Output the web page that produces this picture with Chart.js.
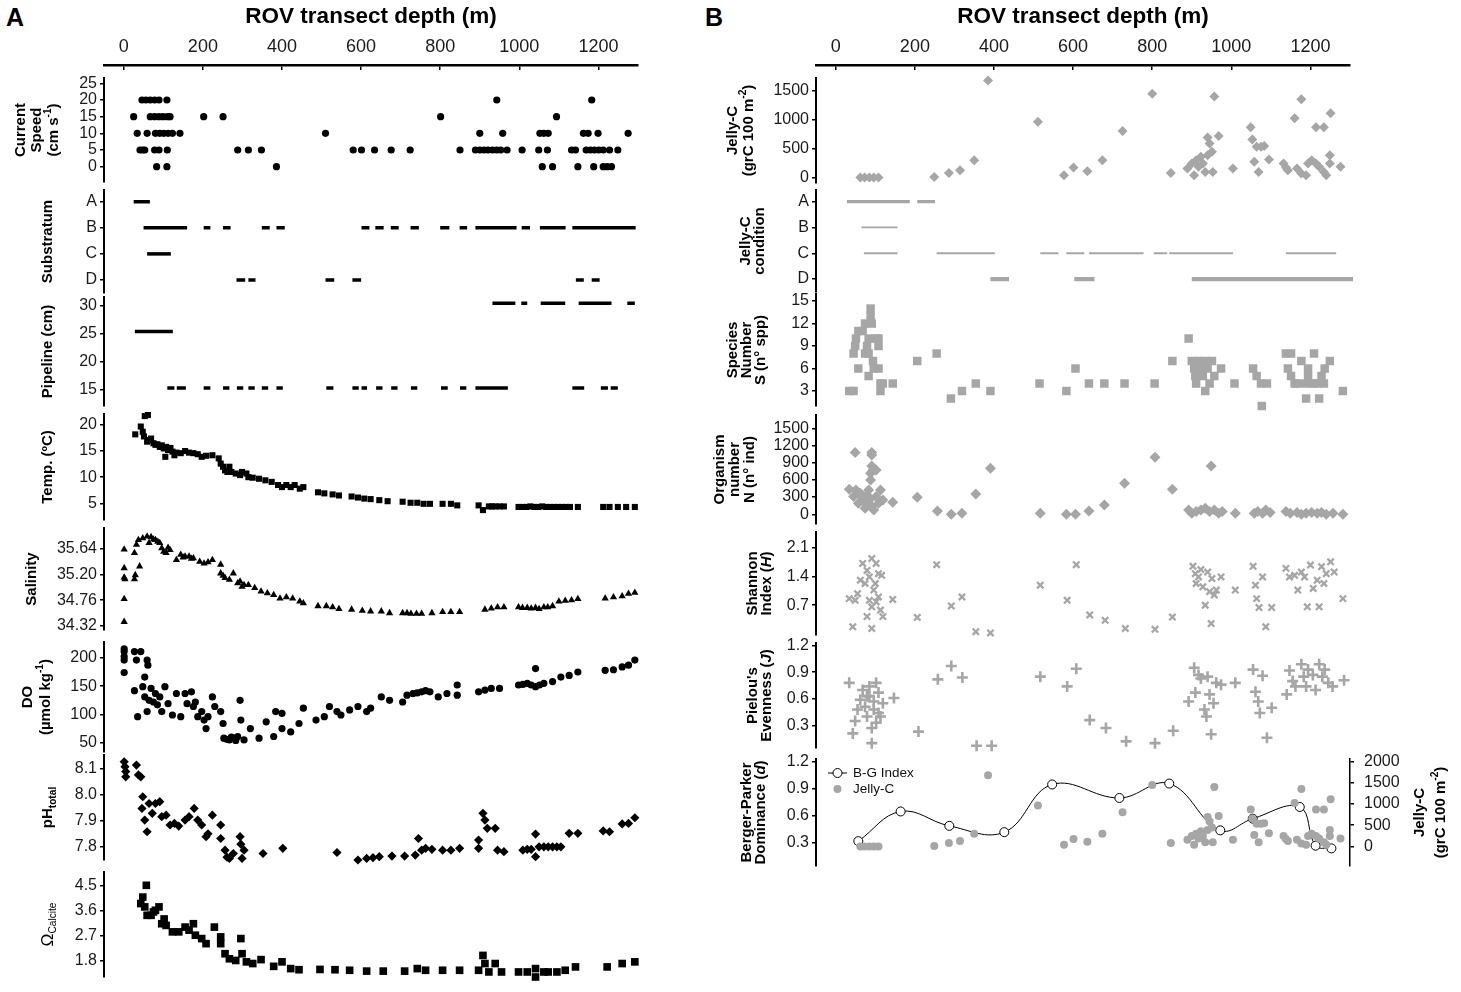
<!DOCTYPE html>
<html><head><meta charset="utf-8">
<script src="https://cdn.jsdelivr.net/npm/chart.js@4.4.1/dist/chart.umd.min.js"></script>
<style>
html,body{margin:0;padding:0;background:#fff;}
#wrap{position:relative;width:1461px;height:992px;overflow:hidden;background:#fff;}
canvas{position:absolute;}
.lbl{position:absolute;font:bold 25px 'Liberation Sans',Arial,sans-serif;color:#000;}
</style></head><body>
<div id="wrap">
<div class="lbl" style="left:6px;top:3px">A</div>
<div class="lbl" style="left:705px;top:3px">B</div>
</div>
<script>
// ---------------- DATA ----------------
const xTicks = [0,200,400,600,800,1000,1200];
const xTitle = 'ROV transect depth (m)';

const speedTicks = [0,5,10,15,20,25];
const currentSpeed = [[46,20],[56,20],[67,20],[78,20],[89,20],[109,20],[943,20],[1183,20],
 [25,15],[67,15],[78,15],[89,15],[99,15],[110,15],[117,15],[202,15],[251,15],[801,15],[1094,15],
 [34,10],[59,10],[80,10],[91,10],[101,10],[112,10],[123,10],[142,10],[510,10],[900,10],[958,10],[1052,10],[1062,10],[1073,10],[1162,10],[1174,10],[1199,10],[1275,10],
 [41,5],[48,5],[53,5],[78,5],[89,5],[110,5],[288,5],[315,5],[348,5],[580,5],[601,5],[634,5],[676,5],[724,5],[850,5],[889,5],[900,5],[911,5],[921,5],[932,5],[943,5],[953,5],[969,5],[1007,5],[1049,5],[1071,5],[1132,5],[1142,5],[1169,5],[1180,5],[1190,5],[1201,5],[1212,5],[1228,5],[1249,5],
 [83,0],[109,0],[386,0],[1058,0],[1084,0],[1148,0],[1188,0],[1212,0],[1222,0],[1233,0]];

const substrateCats = ['A','B','C','D'];
const substrateA = [[25,66]];
const substrateB = [[50,160],[202,219],[251,270],[349,369],[386,407],[601,621],[636,657],[675,695],[725,746],[800,823],[849,868],[889,993],[1006,1027],[1052,1117],[1134,1294]];
const substrateC = [[59,119]];
const substrateD = [[285,307],[315,333],[510,532],[578,600],[1143,1163],[1183,1203]];

const pipeTicks = [15,20,25,30];
const pipeSizes = [30.48,25.4,15.24];
const pipe30 = [[932,990],[1005,1020],[1054,1116],[1150,1233],[1273,1292]];
const pipe25 = [[28,124]];
const pipe15 = [[110,128],[134,157],[202,219],[251,267],[286,302],[315,331],[349,365],[386,402],[512,530],[578,594],[601,615],[638,654],[676,692],[726,742],[802,819],[850,866],[889,971],[1134,1164],[1206,1224],[1231,1249]];

const tempTicks = [5,10,15,20];
const temperature = [[29,18.2],[43,19.7],[53,21.7],[61,21.9],[48,18.7],[51,17.8],[59,16.8],[64,17.1],[69,17.4],[75,16.5],[80,16.2],[85,16.3],[91,15.8],[96,16.1],[101,15.5],[107,15.8],[105,13.9],[112,15.2],[118,15.6],[123,14.9],[128,14.2],[133,14.7],[144,14.6],[155,15.0],[165,14.7],[176,14.6],[187,14.4],[197,13.9],[208,14.1],[224,14.2],[240,13.6],[245,12.6],[251,12.0],[256,11.3],[262,11.0],[267,12.0],[272,11.0],[283,10.7],[294,10.4],[299,11.0],[310,10.7],[315,10.0],[326,9.9],[342,9.7],[358,9.4],[374,9.1],[390,8.5],[400,8.1],[411,8.5],[422,8.1],[432,8.5],[445,7.8],[454,8.1],[491,7.1],[507,6.9],[528,6.7],[544,6.5],[576,6.3],[592,6.1],[608,5.9],[624,5.8],[646,5.6],[667,5.4],[705,5.3],[725,5.1],[742,5.1],[758,4.9],[774,4.9],[806,4.9],[827,4.9],[843,4.6],[897,4.6],[908,3.7],[923,4.4],[931,4.4],[939,4.4],[950,4.4],[961,4.4],[998,4.3],[1008,4.3],[1018,4.3],[1028,4.4],[1038,4.3],[1048,4.3],[1058,4.4],[1068,4.3],[1078,4.3],[1088,4.3],[1098,4.3],[1108,4.3],[1118,4.3],[1128,4.3],[1148,4.3],[1212,4.3],[1228,4.3],[1249,4.3],[1270,4.3],[1292,4.3]];

const salTicks = [34.32,34.76,35.20,35.64];
const salinity = [[1,35.63],[1,35.31],[1,35.15],[3,35.12],[1,34.78],[1,34.39],[27,35.12],[29,35.19],[40,35.34],[27,35.57],[32,35.71],[37,35.79],[48,35.82],[59,35.85],[69,35.84],[64,35.74],[75,35.80],[80,35.79],[86,35.76],[91,35.74],[96,35.65],[101,35.59],[107,35.57],[112,35.66],[117,35.62],[133,35.45],[144,35.54],[150,35.49],[155,35.51],[165,35.51],[171,35.47],[176,35.48],[192,35.42],[203,35.39],[213,35.41],[224,35.45],[245,35.37],[245,35.22],[251,35.18],[256,35.14],[267,35.11],[277,35.22],[288,35.05],[294,35.08],[299,34.99],[304,35.02],[315,35.02],[331,34.97],[347,34.91],[363,34.88],[379,34.85],[395,34.79],[411,34.81],[427,34.79],[445,34.74],[454,34.71],[491,34.66],[512,34.66],[528,34.64],[544,34.61],[576,34.60],[603,34.58],[624,34.57],[651,34.57],[672,34.54],[705,34.54],[716,34.54],[726,34.53],[740,34.53],[753,34.53],[779,34.54],[806,34.56],[827,34.56],[849,34.56],[913,34.60],[929,34.62],[945,34.64],[961,34.64],[998,34.64],[1008,34.63],[1020,34.63],[1030,34.62],[1041,34.63],[1050,34.61],[1062,34.64],[1072,34.64],[1084,34.66],[1100,34.74],[1116,34.75],[1132,34.76],[1148,34.78],[1217,34.79],[1238,34.81],[1260,34.83],[1276,34.87],[1292,34.89]];

const doTicks = [50,100,150,200];
const dissolvedO2 = [[1,216],[1,211],[1,202],[1,196],[1,174],[27,211],[32,196],[43,211],[59,196],[61,187],[53,166],[27,142],[35,96],[48,149],[53,131],[59,105],[64,125],[69,146],[75,122],[80,137],[85,117],[91,131],[96,105],[104,149],[112,119],[123,99],[133,137],[144,96],[155,137],[160,119],[171,140],[176,114],[181,122],[187,96],[197,105],[203,90],[208,75],[213,96],[224,131],[230,114],[245,105],[251,84],[253,58],[260,56],[267,55],[272,60],[277,58],[283,54],[288,61],[294,125],[296,90],[304,55],[320,75],[342,58],[360,87],[379,61],[384,105],[400,102],[400,75],[422,69],[443,84],[454,111],[486,90],[507,96],[520,114],[539,105],[549,99],[571,108],[592,114],[614,105],[624,111],[651,131],[672,125],[705,122],[716,134],[731,137],[742,138],[753,140],[763,142],[774,140],[795,131],[817,137],[843,134],[843,152],[897,140],[913,143],[929,146],[950,146],[998,152],[1009,153],[1020,155],[1030,152],[1041,181],[1041,149],[1051,152],[1062,155],[1084,158],[1105,166],[1126,169],[1148,175],[1217,178],[1238,179],[1260,184],[1276,187],[1292,196]];

const phTicks = [7.8,7.9,8.0,8.1];
const phTotal = [[1,8.128],[3,8.109],[5,8.09],[5,8.07],[32,8.115],[37,8.077],[43,8.07],[48,7.993],[46,7.948],[53,7.903],[59,7.858],[64,7.967],[72,7.929],[80,7.967],[91,7.974],[96,7.916],[107,7.922],[117,7.884],[128,7.89],[139,7.88],[155,7.903],[165,7.916],[178,7.948],[187,7.903],[197,7.884],[208,7.839],[213,7.85],[224,7.922],[245,7.884],[245,7.832],[256,7.787],[261,7.76],[267,7.755],[277,7.774],[294,7.839],[296,7.81],[299,7.755],[304,7.787],[352,7.774],[402,7.794],[539,7.778],[592,7.749],[614,7.755],[630,7.758],[646,7.762],[678,7.764],[710,7.764],[737,7.768],[745,7.832],[753,7.787],[763,7.794],[779,7.79],[806,7.787],[827,7.787],[849,7.794],[897,7.826],[897,7.794],[908,7.929],[913,7.903],[919,7.871],[939,7.871],[945,7.787],[961,7.781],[1009,7.787],[1020,7.79],[1030,7.79],[1041,7.849],[1041,7.762],[1050,7.8],[1062,7.8],[1073,7.8],[1084,7.8],[1095,7.8],[1105,7.8],[1126,7.852],[1148,7.852],[1212,7.861],[1228,7.858],[1260,7.888],[1276,7.89],[1292,7.912]];

const omegaTicks = [1.8,2.7,3.6,4.5];
const omegaCalcite = [[43,3.85],[48,4.08],[57,4.5],[53,3.73],[59,3.43],[69,3.43],[75,3.55],[80,3.61],[89,3.73],[96,3.13],[102,3.3],[107,3.07],[123,2.84],[139,2.84],[155,3.01],[165,2.9],[176,3.13],[181,2.72],[197,2.6],[208,2.42],[229,3.01],[245,2.66],[245,2.42],[256,2.06],[267,1.88],[283,1.82],[296,2.6],[299,2.06],[310,1.77],[326,1.71],[347,1.85],[379,1.61],[400,1.77],[422,1.53],[443,1.49],[496,1.5],[534,1.49],[571,1.47],[614,1.44],[656,1.44],[710,1.44],[742,1.53],[763,1.47],[806,1.47],[849,1.47],[897,1.47],[908,2.0],[913,1.71],[923,1.41],[939,1.71],[955,1.41],[998,1.41],[1020,1.41],[1041,1.53],[1041,1.23],[1062,1.41],[1073,1.41],[1095,1.41],[1116,1.47],[1142,1.59],[1222,1.59],[1260,1.71],[1292,1.77]];

const jellyTicks = [0,500,1000,1500];
const jellyC = [[62,0],[73,0],[85,0],[96,0],[108,0],[249,12],[286,81],[314,127],[350,300],[385,1672],[511,963],[577,40],[601,173],[636,110],[674,300],[725,802],[800,1442],[847,81],[889,156],[900,242],[906,40],[911,300],[917,185],[923,358],[928,242],[934,98],[940,386],[940,692],[945,588],[951,444],[953,98],[957,1396],[968,715],[1004,156],[1049,865],[1053,658],[1058,271],[1064,531],[1069,98],[1075,531],[1083,542],[1095,311],[1132,242],[1138,173],[1143,127],[1160,1021],[1166,156],[1177,1350],[1177,69],[1189,40],[1194,242],[1203,300],[1214,242],[1214,865],[1222,185],[1234,865],[1234,98],[1240,40],[1249,386],[1249,242],[1251,1107],[1276,185]];

const conditionCats = ['A','B','C','D'];
const conditionA = [[28,187],[206,251]];
const conditionB = [[65,156]];
const conditionC = [[71,156],[255,402],[517,563],[583,628],[640,778],[804,838],[843,1004],[1138,1265]];
const conditionD = [[391,438],[603,654],[900,1328]];

const speciesTicks = [3,6,9,12,15];
const speciesNumber = [[34,3],[45,3],[45,8],[51,10],[57,11],[49,9],[57,6],[68,11],[74,12],[79,9],[83,8],[88,13],[88,14],[91,12],[83,5],[96,6],[102,10],[108,9],[108,6],[113,4],[113,3],[119,4],[144,4],[83,10],[74,8],[94,7],[108,10],[206,7],[255,8],[291,2],[319,3],[354,4],[391,3],[515,4],[583,3],[606,6],[640,4],[679,4],[730,4],[806,4],[851,7],[892,10],[900,7],[906,6],[909,5],[917,7],[923,6],[928,5],[934,7],[940,6],[945,4],[951,7],[957,5],[934,3],[911,4],[974,6],[1008,4],[1055,6],[1064,5],[1075,4],[1090,4],[1077,1],[1138,8],[1151,8],[1143,6],[1151,5],[1160,4],[1168,4],[1177,7],[1194,6],[1194,5],[1209,8],[1217,4],[1228,5],[1189,2],[1222,2],[1234,4],[1236,6],[1249,7],[1206,4],[1189,4],[1282,3]];

const organismTicks = [0,300,600,900,1200,1500];
const organismNumber = [[49,1076],[91,1076],[91,1035],[91,843],[94,773],[102,773],[88,599],[88,715],[34,436],[45,308],[51,424],[57,192],[62,366],[68,279],[74,192],[79,337],[85,250],[91,134],[96,76],[102,308],[108,192],[113,424],[119,250],[83,424],[74,105],[144,209],[206,297],[257,58],[292,0],[319,17],[354,355],[391,802],[517,17],[583,0],[606,0],[640,58],[679,163],[730,541],[807,994],[851,436],[892,76],[900,17],[911,47],[923,76],[934,105],[945,47],[949,843],[957,76],[968,17],[977,47],[1010,17],[1058,17],[1067,47],[1079,17],[1087,76],[1098,29],[1138,47],[1149,17],[1166,29],[1177,0],[1189,17],[1203,29],[1217,17],[1228,29],[1240,0],[1257,17],[1282,0]];

const shannonTicks = [0.7,1.4,2.1];
const shannonH = [[34,0.86],[43,0.17],[49,0.82],[55,0.98],[68,1.72],[62,1.31],[74,1.23],[79,1.55],[85,1.39],[91,1.84],[91,0.13],[96,1.07],[102,1.72],[108,1.47],[102,0.78],[113,0.58],[119,0.42],[79,0.42],[91,0.66],[108,0.9],[116,1.43],[85,0.82],[100,1.23],[144,0.84],[206,0.4],[255,1.69],[292,0.68],[319,0.9],[354,0.05],[391,0.02],[517,1.19],[585,0.82],[608,1.69],[642,0.46],[681,0.33],[732,0.13],[807,0.11],[851,0.41],[903,1.65],[909,1.47],[911,1.23],[917,1.39],[923,1.57],[928,1.15],[934,0.7],[940,1.51],[945,1.03],[949,0.25],[951,1.35],[957,0.95],[962,1.07],[974,1.39],[1010,1.07],[1055,1.65],[1061,1.19],[1064,0.86],[1070,0.64],[1079,1.39],[1087,0.17],[1102,0.64],[1138,1.6],[1147,1.39],[1160,1.43],[1168,1.07],[1177,1.51],[1185,1.39],[1192,0.66],[1200,1.68],[1207,1.11],[1217,1.31],[1222,0.66],[1228,1.64],[1234,1.23],[1240,1.47],[1251,1.76],[1260,1.51],[1282,0.86]];

const pielouTicks = [0.3,0.6,0.9,1.2];
const pielouJ = [[34,0.78],[43,0.21],[49,0.35],[55,0.48],[62,0.59],[68,0.70],[74,0.51],[79,0.40],[85,0.63],[91,0.10],[91,0.27],[96,0.48],[102,0.78],[108,0.67],[113,0.40],[119,0.55],[102,0.33],[85,0.74],[96,0.57],[79,0.63],[108,0.44],[147,0.61],[209,0.23],[258,0.82],[292,0.97],[320,0.84],[356,0.07],[394,0.07],[517,0.85],[585,0.74],[608,0.94],[642,0.36],[683,0.27],[734,0.12],[807,0.10],[853,0.24],[892,0.57],[906,0.95],[909,0.67],[917,0.87],[923,0.83],[932,0.48],[937,0.40],[940,0.85],[945,0.65],[949,0.20],[955,0.55],[962,0.78],[974,0.76],[1010,0.78],[1055,0.93],[1061,0.68],[1068,0.57],[1072,0.44],[1079,0.86],[1090,0.16],[1102,0.50],[1140,0.65],[1147,0.92],[1155,0.80],[1162,0.74],[1177,0.99],[1183,0.85],[1189,0.74],[1194,0.93],[1206,0.87],[1213,0.70],[1222,0.99],[1230,0.85],[1236,0.93],[1245,0.78],[1256,0.74],[1285,0.81]];

const bgTicks = [0.3,0.6,0.9,1.2];
const bgJellyTicks = [0,500,1000,1500,2000];
const bgIndex = [[57,0.32],[164,0.65],[287,0.49],[426,0.42],[547,0.95],[717,0.80],[843,0.96],[972,0.44],[1054,0.57],[1173,0.70],[1213,0.27],[1253,0.24]];
const bgLabels = ['B-G Index','Jelly-C'];

// ---------------- HELPERS ----------------
const X_MIN = -50, X_MAX = 1300;
const BLACK = '#000', GRAY = '#a6a6a6';
const NARROW = "'Liberation Sans Narrow','Arial Narrow','Liberation Sans',Arial,sans-serif";
const SANS = "'Liberation Sans',Arial,sans-serif";
const TICK_FONT = {family: NARROW, size: 16};
const PADV = 26;
const wrap = document.getElementById('wrap');

function addCanvas(l, t, w, h) {
  const c = document.createElement('canvas');
  c.width = w; c.height = h;
  Object.assign(c.style, {left: l + 'px', top: t + 'px', width: w + 'px', height: h + 'px'});
  wrap.appendChild(c);
  return c;
}
const xy = a => a.map(([x, y]) => ({x, y}));
function marks(arr, style, r, color, extra) {
  return Object.assign({data: xy(arr), pointStyle: style, pointRadius: r, pointBackgroundColor: color,
    pointBorderColor: color, pointBorderWidth: 0, showLine: false, clip: false}, extra || {});
}
function bars(list, level, color, w) {
  const d = [];
  list.forEach(([a, b]) => { d.push({x: a, y: level}, {x: b, y: level}, {x: b, y: null}); });
  return {data: d, showLine: true, pointRadius: 0, borderColor: color, borderWidth: w,
    spanGaps: false, clip: false, borderCapStyle: 'butt'};
}

function titlePlugin(items, offX) {
  return {
    id: 'ytitles',
    afterDraw(chart) {
      const ctx = chart.ctx, ca = chart.chartArea;
      items.forEach(it => {
        const cy = (ca.top + ca.bottom) / 2 + (it.dy || 0);
        const size = it.size || 15;
        const n = it.lines.length;
        it.lines.forEach((line, i) => {
          const x = it.x - offX + (i - (n - 1) / 2) * (it.gap || 15);
          ctx.save();
          ctx.translate(x, cy);
          ctx.rotate(-Math.PI / 2);
          ctx.fillStyle = '#000';
          ctx.textBaseline = 'middle';
          ctx.textAlign = 'left';
          const parts = line.map(seg => {
            const s = typeof seg === 'string' ? {t: seg} : seg;
            const small = s.sub || s.sup;
            const fs = small ? size * (s.big ? 0.75 : 0.68) : (s.big ? size * 1.15 : size);
            const font = (s.i ? 'italic ' : '') + (s.nb ? 'normal ' : 'bold ') + fs + 'px ' + SANS;
            ctx.font = font;
            return {t: s.t, font, w: ctx.measureText(s.t).width,
              dy: s.sub ? size * 0.32 : (s.sup ? -size * 0.38 : 0)};
          });
          const total = parts.reduce((a, p) => a + p.w, 0);
          let xx = -total / 2;
          parts.forEach(p => { ctx.font = p.font; ctx.fillText(p.t, xx, p.dy); xx += p.w; });
          ctx.restore();
        });
      });
    }
  };
}

function topAxis(canvasLeft, areaL, areaR, lineY) {
  const w = areaR + 40 - canvasLeft, h = lineY + 5;
  const c = addCanvas(canvasLeft, 0, w, h);
  new Chart(c, {
    type: 'scatter', data: {datasets: []},
    options: {
      responsive: false, animation: false, events: [],
      layout: {padding: {left: areaL - canvasLeft, right: w - (areaR - canvasLeft), top: 0, bottom: 0}, autoPadding: false},
      plugins: {legend: {display: false}, tooltip: {enabled: false}},
      scales: {
        x: {type: 'linear', position: 'top', min: X_MIN, max: X_MAX,
          afterFit: s => { s.height = lineY; },
          afterBuildTicks: s => { s.ticks = xTicks.map(v => ({value: v})); },
          ticks: {font: {family: NARROW, size: 18}, color: '#1a1a1a', padding: 7, autoSkip: false, maxRotation: 0,
            callback: (v, i) => String(xTicks[i])},
          grid: {drawOnChartArea: true, drawTicks: false, color: '#000', lineWidth: 1.5},
          border: {display: true, color: '#000', width: 2.5},
          title: {display: true, text: xTitle, font: {family: SANS, size: 22.5, weight: 'bold'}, color: '#000', padding: {top: 3, bottom: 0}}
        },
        y: {display: false, min: 0, max: 1}
      }
    }
  });
}

function subplot(p) {
  const padV = PADV;
  const canvasRight = p.canvasRight || (p.areaR + 3);
  const cw = canvasRight - p.canvasLeft;
  const ch = p.bottom - p.top + 2 * padV;
  const c = addCanvas(p.canvasLeft, p.top - padV, cw, ch);
  const yw = p.areaL - p.canvasLeft;
  const yAxis = (ticks, labels, min, max, pos, width, pad) => ({
    type: 'linear', position: pos, min, max,
    afterFit: s => { s.width = width; },
    afterBuildTicks: s => { s.ticks = ticks.map(v => ({value: v})); },
    grid: {display: true, drawOnChartArea: false, drawTicks: true, tickLength: 4, color: '#000', lineWidth: 1.5},
    border: {display: true, color: '#000', width: 2},
    ticks: {font: TICK_FONT, color: '#1a1a1a', padding: pad, autoSkip: false,
      callback: (v, i) => labels[i]}
  });
  const scales = {
    x: {type: 'linear', min: X_MIN, max: X_MAX, display: false},
    y: yAxis(p.yticks, p.ylabels || p.yticks.map(String), p.ymin, p.ymax, 'left', yw, 3)
  };
  let rightW = cw - (p.areaR - p.canvasLeft);
  let padRight = rightW;
  if (p.y2) {
    scales.y2 = yAxis(p.y2.ticks, p.y2.ticks.map(String), p.y2.min, p.y2.max, 'right', rightW, 10);
    scales.y2.border.width = 1.5;
    padRight = 0;
  }
  new Chart(c, {
    type: 'scatter',
    data: {datasets: p.datasets},
    options: {
      responsive: false, animation: false, events: [],
      layout: {padding: {top: padV, bottom: padV, left: 0, right: padRight}, autoPadding: false},
      plugins: {legend: {display: false}, tooltip: {enabled: false}},
      scales
    },
    plugins: [titlePlugin(p.titles, p.canvasLeft)].concat(p.extraPlugins || [])
  });
}

// ---------------- PANEL A ----------------
const AL = 0, AaL = 104, AaR = 638;
topAxis(AL, AaL, AaR, 65);
const base = (o) => Object.assign({canvasLeft: AL, areaL: AaL, areaR: AaR}, o);

subplot(base({top: 78, bottom: 182, ymin: -4.6, ymax: 26.6, yticks: speedTicks,
  titles: [{x: 37, gap: 16.5, lines: [['Current'], ['Speed'], ['(cm s', {t: '-1', sup: 1}, ')']]}],
  datasets: [marks(currentSpeed, 'circle', 3.6, BLACK)]}));

subplot(base({top: 190, bottom: 293, ymin: 0.5, ymax: 4.45, yticks: [4,3,2,1], ylabels: substrateCats,
  titles: [{x: 48, lines: [['Substratum']]}],
  datasets: [bars(substrateA, 4, BLACK, 3.5), bars(substrateB, 3, BLACK, 3.5), bars(substrateC, 2, BLACK, 3.5), bars(substrateD, 1, BLACK, 3.5)]}));

subplot(base({top: 297, bottom: 406, ymin: 12, ymax: 31.6, yticks: pipeTicks,
  titles: [{x: 48, lines: [['Pipeline (cm)']]}],
  datasets: [bars(pipe30, pipeSizes[0], BLACK, 3.5), bars(pipe25, pipeSizes[1], BLACK, 3.5), bars(pipe15, pipeSizes[2], BLACK, 3.5)]}));

subplot(base({top: 414, bottom: 520, ymin: 1.8, ymax: 22.1, yticks: tempTicks,
  titles: [{x: 48, lines: [['Temp. (ºC)']]}],
  datasets: [marks(temperature, 'rect', 4.3, BLACK)]}));

subplot(base({top: 528, bottom: 630, ymin: 34.25, ymax: 35.995, yticks: salTicks, ylabels: salTicks.map(v => v.toFixed(2)),
  titles: [{x: 32, lines: [['Salinity']]}],
  datasets: [marks(salinity, 'triangle', 4.2, BLACK)]}));

subplot(base({top: 642, bottom: 752, ymin: 33.6, ymax: 228, yticks: doTicks,
  titles: [{x: 37, gap: 18, lines: [['DO'], ['(µmol kg', {t: '-1', sup: 1}, ')']]}],
  datasets: [marks(dissolvedO2, 'circle', 3.6, BLACK)]}));

subplot(base({top: 755, bottom: 860, ymin: 7.749, ymax: 8.154, yticks: phTicks, ylabels: phTicks.map(v => v.toFixed(1)),
  titles: [{x: 48, lines: [['pH', {t: 'total', sub: 1}]]}],
  datasets: [marks(phTotal, 'rectRot', 4.6, BLACK)]}));

subplot(base({top: 872, bottom: 977, ymin: 1.23, ymax: 4.975, yticks: omegaTicks, ylabels: omegaTicks.map(v => v.toFixed(1)),
  titles: [{x: 48, lines: [[{t: 'Ω', nb: 1, big: 1}, {t: 'Calcite', sub: 1, nb: 1}]]}],
  datasets: [marks(omegaCalcite, 'rect', 5.4, BLACK)]}));

// ---------------- PANEL B ----------------
const BL = 700, BaL = 816, BaR = 1350;
topAxis(BL, BaL, BaR, 65);
const baseB = (o) => Object.assign({canvasLeft: BL, areaL: BaL, areaR: BaR}, o);

subplot(baseB({top: 78, bottom: 183, ymin: -93, ymax: 1715, yticks: jellyTicks,
  titles: [{x: 741, gap: 16.5, lines: [['Jelly-C'], ['(grC 100 m', {t: '-2', sup: 1}, ')']]}],
  datasets: [marks(jellyC, 'rectRot', 5, GRAY)]}));

subplot(baseB({top: 190, bottom: 292, ymin: 0.5, ymax: 4.45, yticks: [4,3,2,1], ylabels: conditionCats,
  titles: [{x: 753, gap: 14, lines: [['Jelly-C'], ['condition']]}],
  datasets: [bars(conditionA, 4, GRAY, 3.4), bars(conditionB, 3, GRAY, 1.8), bars(conditionC, 2, GRAY, 1.8), bars(conditionD, 1, GRAY, 4.2)]}));

subplot(baseB({top: 294, bottom: 406, ymin: 1.0, ymax: 15.94, yticks: speciesTicks,
  titles: [{x: 746.5, gap: 14, lines: [['Species'], ['Number'], ['S (n° spp)']]}],
  datasets: [marks(speciesNumber, 'rect', 6, GRAY)]}));

subplot(baseB({top: 415, bottom: 524, ymin: -170, ymax: 1732, yticks: organismTicks,
  titles: [{x: 735, gap: 14.7, lines: [['Organism'], ['number'], ['N (n° ind)']]}],
  datasets: [marks(organismNumber, 'rectRot', 5.5, GRAY)]}));

subplot(baseB({top: 532, bottom: 635, ymin: -0.03, ymax: 2.49, yticks: shannonTicks, ylabels: shannonTicks.map(v => v.toFixed(1)),
  titles: [{x: 759.5, gap: 14, lines: [['Shannon'], ['Index (', {t: 'H', i: 1}, ')']]}],
  datasets: [marks(shannonH, 'crossRot', 4.5, GRAY, {pointBorderWidth: 2.3})]}));

subplot(baseB({top: 643, bottom: 748, ymin: 0.045, ymax: 1.23, yticks: pielouTicks, ylabels: pielouTicks.map(v => v.toFixed(1)),
  titles: [{x: 759.5, gap: 14, lines: [["Pielou's"], ['Evenness (', {t: 'J', i: 1}, ')']]}],
  datasets: [marks(pielouJ, 'cross', 5.5, GRAY, {pointBorderWidth: 2.6})]}));

const bgLegend = {
  id: 'bglegend',
  afterDraw(chart) {
    const ctx = chart.ctx, ox = BL, oy = 759 - PADV;
    ctx.save();
    ctx.font = '13.5px ' + NARROW;
    ctx.textBaseline = 'middle';
    ctx.fillStyle = '#111';
    let y = 773 - oy;
    ctx.strokeStyle = '#000'; ctx.lineWidth = 1;
    ctx.beginPath(); ctx.moveTo(828 - ox, y); ctx.lineTo(847 - ox, y); ctx.stroke();
    ctx.beginPath(); ctx.arc(837.5 - ox, y, 4.5, 0, Math.PI * 2); ctx.fillStyle = '#fff'; ctx.fill(); ctx.stroke();
    ctx.fillStyle = '#111'; ctx.fillText(bgLabels[0], 853 - ox, y);
    y = 789 - oy;
    ctx.beginPath(); ctx.arc(837.5 - ox, y, 4, 0, Math.PI * 2); ctx.fillStyle = GRAY; ctx.fill();
    ctx.fillStyle = '#111'; ctx.fillText(bgLabels[1], 853 - ox, y);
    ctx.restore();
  }
};

subplot(baseB({top: 759, bottom: 866, ymin: 0.044, ymax: 1.233, yticks: bgTicks, ylabels: bgTicks.map(v => v.toFixed(1)),
  canvasRight: 1461,
  y2: {ticks: bgJellyTicks, min: -460, max: 2054},
  titles: [{x: 754, gap: 14.5, lines: [['Berger-Parker'], ['Dominance (', {t: 'd', i: 1}, ')']]},
           {x: 1430, gap: 21, lines: [['Jelly-C'], ['(grC 100 m', {t: '-2', sup: 1}, ')']]}],
  extraPlugins: [bgLegend],
  datasets: [
    Object.assign(marks(jellyC, 'circle', 4, GRAY), {yAxisID: 'y2', label: bgLabels[1]}),
    {label: bgLabels[0], data: xy(bgIndex), yAxisID: 'y', showLine: true, tension: 0.4, borderColor: '#000', borderWidth: 1,
     pointStyle: 'circle', pointRadius: 4.5, pointBackgroundColor: '#fff', pointBorderColor: '#000', pointBorderWidth: 1, clip: false}
  ]}));
</script>
</body></html>
